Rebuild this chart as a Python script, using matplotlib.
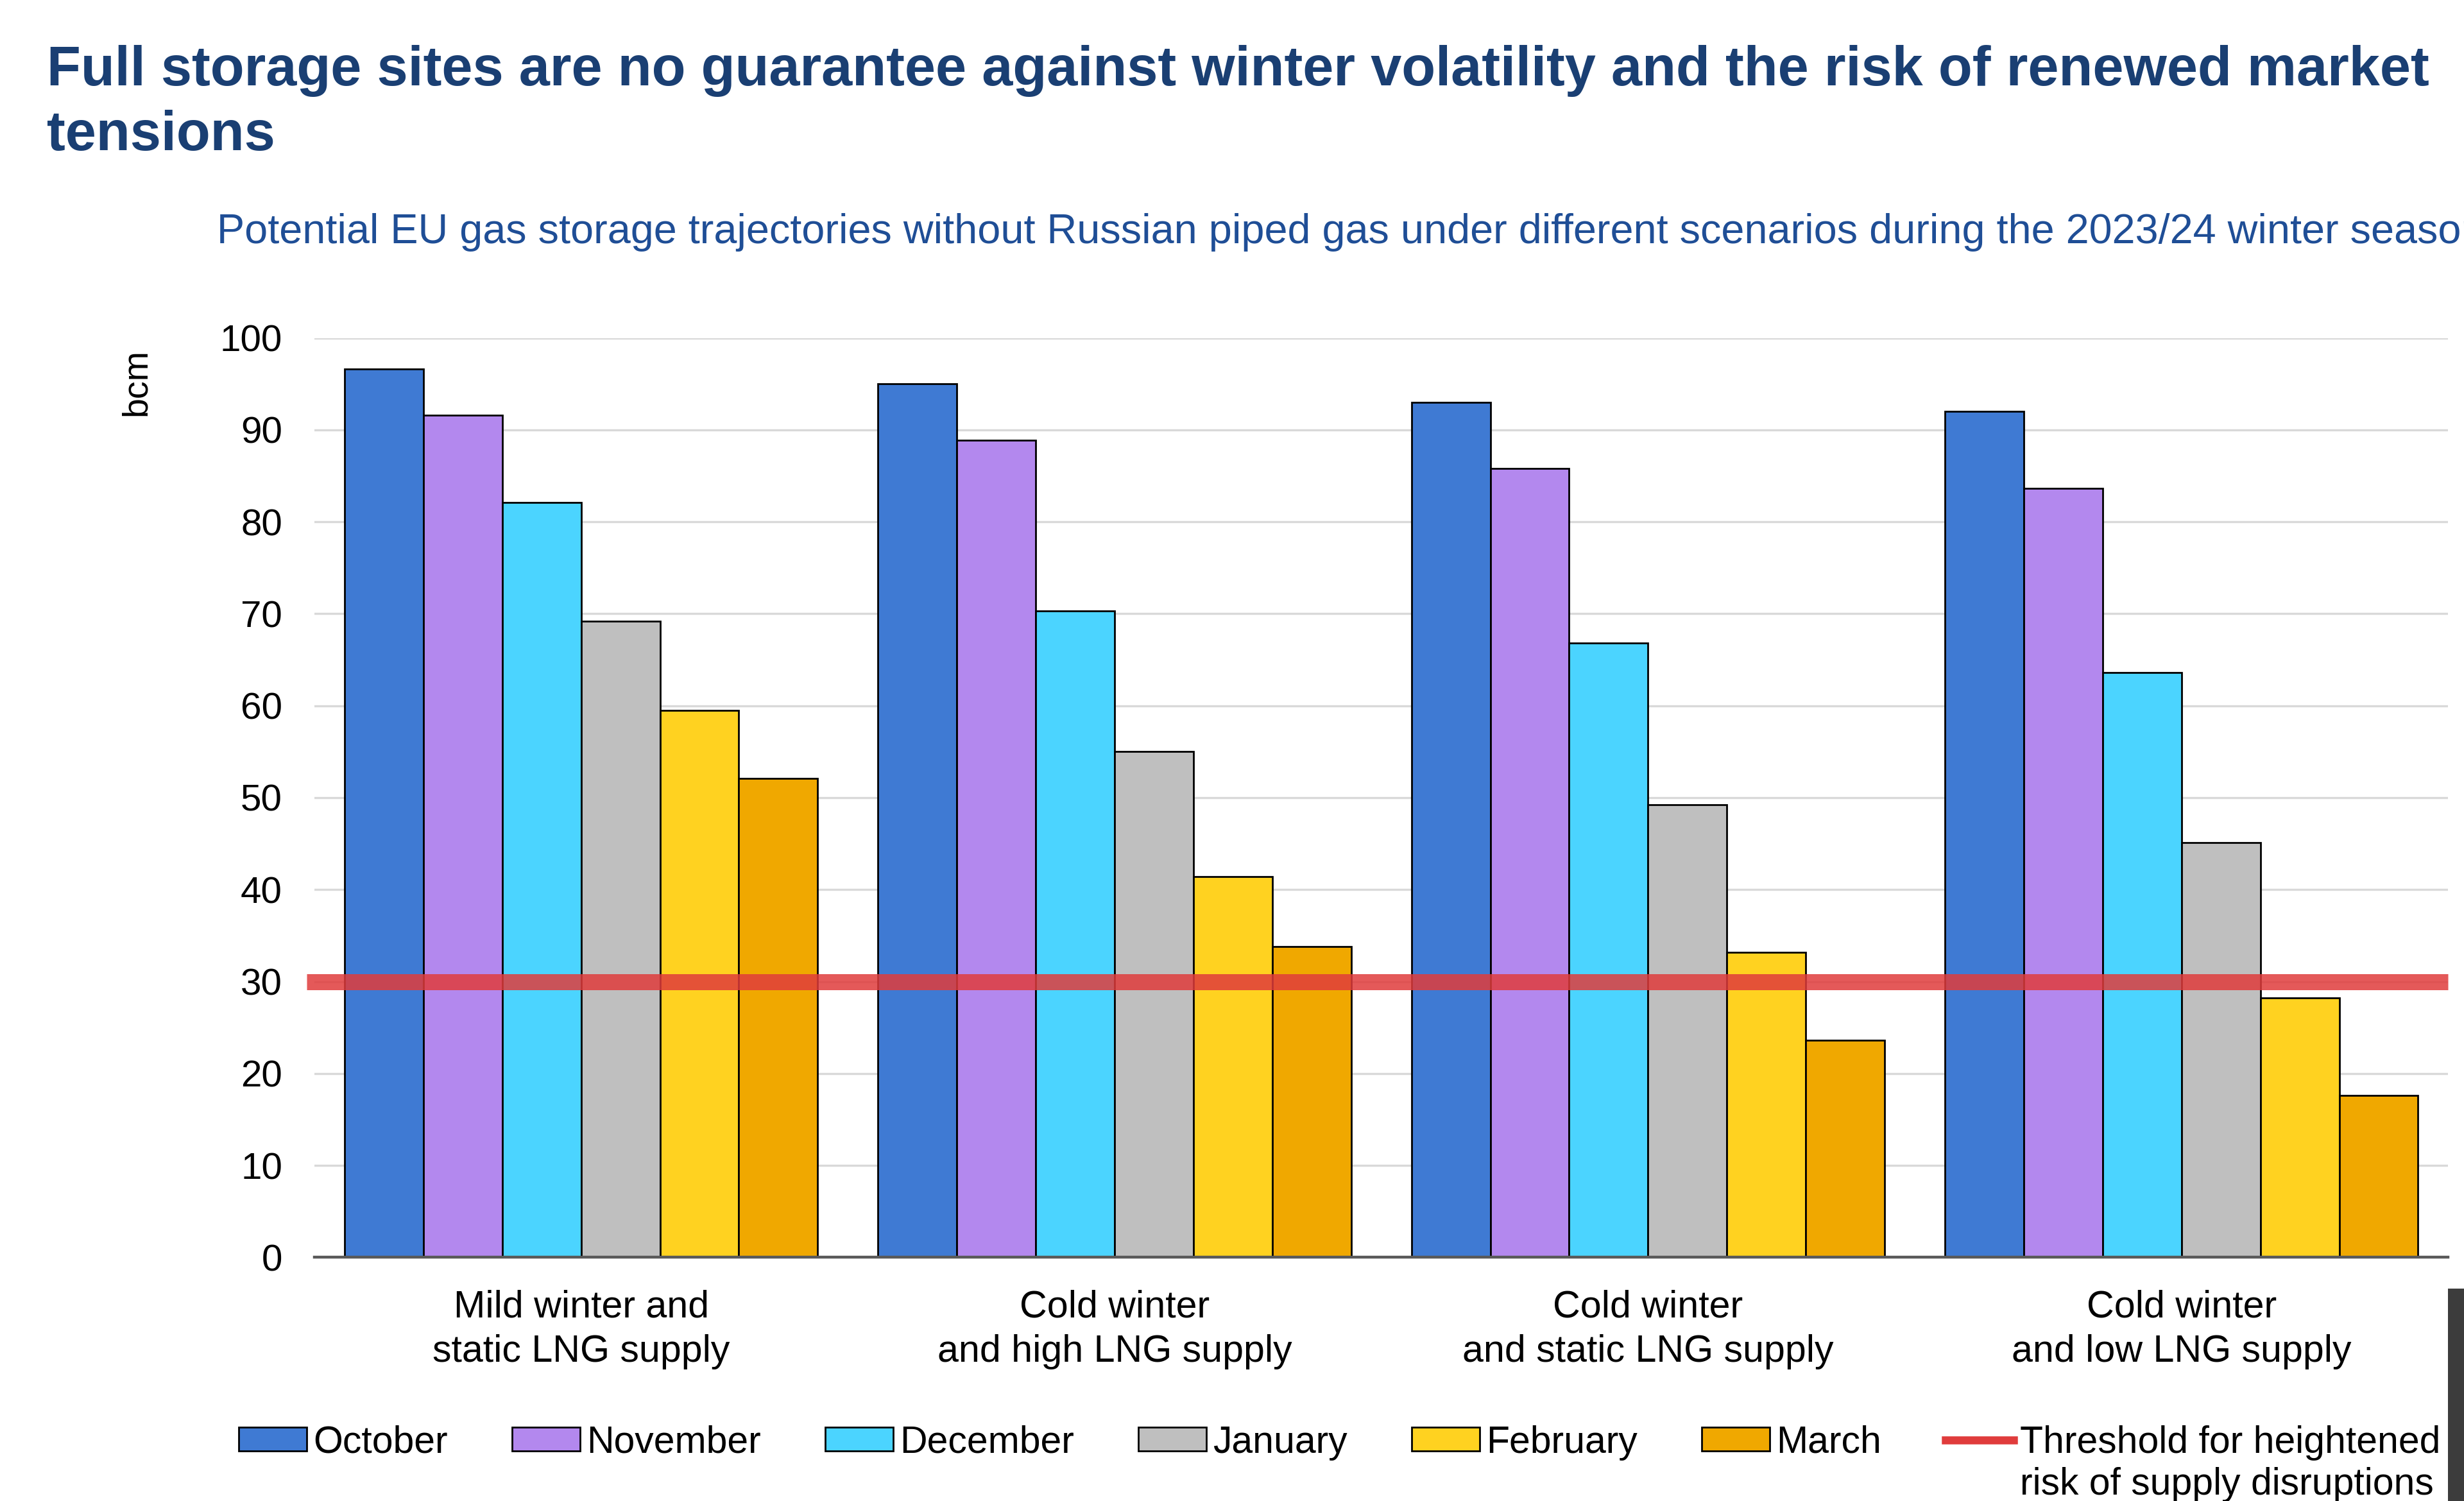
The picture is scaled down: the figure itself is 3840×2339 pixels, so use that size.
import matplotlib
matplotlib.use("Agg")
import matplotlib.pyplot as plt
import numpy as np
from matplotlib.patches import Patch, Rectangle
from matplotlib.lines import Line2D

plt.rcParams['font.family'] = ['Liberation Sans', 'DejaVu Sans']

scenarios = ['Mild winter and\nstatic LNG supply', 'Cold winter\nand high LNG supply',
             'Cold winter\nand static LNG supply', 'Cold winter\nand low LNG supply']
months = ['October', 'November', 'December', 'January', 'February', 'March']
october = [96.6, 95.0, 93.0, 92.0]
november = [91.6, 88.9, 85.8, 83.6]
december = [82.1, 70.3, 66.8, 63.6]
january = [69.2, 55.0, 49.2, 45.1]
february = [59.5, 41.4, 33.2, 28.2]
march = [52.1, 33.8, 23.6, 17.6]
threshold = 30
yticks = [0, 10, 20, 30, 40, 50, 60, 70, 80, 90, 100]

colors = ['#3f7ad3', '#b388ee', '#4bd4ff', '#bfbfbf', '#ffd220', '#f0a800']
series = [october, november, december, january, february, march]

fig = plt.figure(figsize=(19.2, 11.695), dpi=200)
ax = fig.add_axes([0.1276, 0.1623, 0.8660, 0.6126])

x = np.arange(len(scenarios))
group_w = 0.887
bar_w = group_w / len(months)
for i, (vals, col) in enumerate(zip(series, colors)):
    ax.bar(x - group_w / 2 + bar_w * (i + 0.5), vals, bar_w, color=col,
           edgecolor='black', linewidth=1.0, zorder=3)

ax.plot([-0.515, 3.5], [threshold, threshold], color='#e03c3c', lw=9, alpha=0.85,
        solid_capstyle='butt', clip_on=False, zorder=4)

ax.set_xlim(-0.5, 3.5)
ax.set_ylim(0, 100)
ax.set_yticks(yticks)
ax.set_xticks(x)
ax.set_xticklabels(scenarios, fontsize=21.3, linespacing=1.35)
ax.tick_params(axis='y', length=0, pad=18, labelsize=21)
ax.tick_params(axis='x', length=0, pad=18)
ax.grid(axis='y', color='#d9d9d9', lw=1.2, zorder=0)
ax.spines[['left', 'right', 'top']].set_visible(False)
ax.spines['bottom'].set_color('#595959')
ax.spines['bottom'].set_linewidth(1.6)
ax.spines['bottom'].set_zorder(5)

fig.text(87 / 1568, 1 - 243 / 955, 'bcm', rotation=90, ha='center', va='center', fontsize=20)

fig.text(0.0191, 0.970, 'Full storage sites are no guarantee against winter volatility and the risk of renewed market\ntensions',
         fontsize=31.2, fontweight='bold', color='#1a3f73', ha='left', va='top', linespacing=1.32)
fig.text(0.088, 1 - 148 / 955,
         'Potential EU gas storage trajectories without Russian piped gas under different scenarios during the 2023/24 winter season',
         fontsize=23.3, color='#1f4e96', ha='left', va='center')

handles = [Patch(facecolor=c, edgecolor='black', lw=1.0) for c in colors]
handles.append(Line2D([], [], color='#e03c3c', lw=4.5))
labels = months + ['Threshold for heightened']
leg = fig.legend(handles, labels, loc='center left', bbox_to_anchor=(0.097, 0.0388), ncol=7,
                 frameon=False, fontsize=21.2, borderpad=0, borderaxespad=0,
                 handlelength=1.8, handleheight=0.59, handletextpad=0.17, columnspacing=1.70)

# second line of the threshold label, placed under the first one
fig.canvas.draw()
bb = leg.get_texts()[-1].get_window_extent().transformed(fig.transFigure.inverted())
fig.text(bb.x0, bb.y0 - 0.0045, 'risk of supply disruptions', fontsize=21.2, ha='left', va='top')

fig.add_artist(Rectangle((0.9936, 0), 0.0064, 0.1414, transform=fig.transFigure,
                         facecolor='#3c3c3c', edgecolor='none'))

fig.savefig('out.png', dpi=200)
